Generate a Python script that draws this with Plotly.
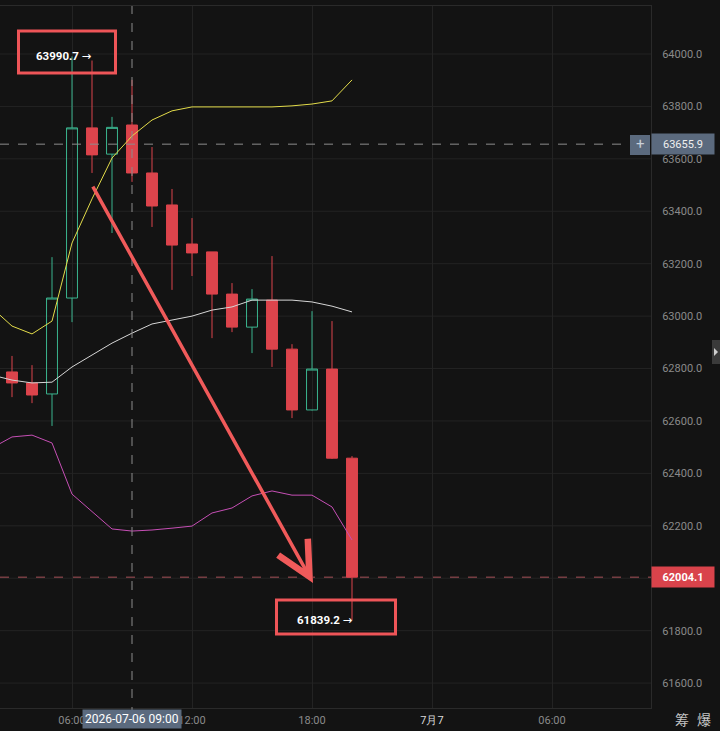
import plotly.graph_objects as go

# ---------------- data ----------------
times = ["2026-07-06 02:00", "2026-07-06 03:00", "2026-07-06 04:00", "2026-07-06 05:00",
         "2026-07-06 06:00", "2026-07-06 07:00", "2026-07-06 08:00", "2026-07-06 09:00",
         "2026-07-06 10:00", "2026-07-06 11:00", "2026-07-06 12:00", "2026-07-06 13:00",
         "2026-07-06 14:00", "2026-07-06 15:00", "2026-07-06 16:00", "2026-07-06 17:00",
         "2026-07-06 18:00", "2026-07-06 19:00", "2026-07-06 20:00"]

candle_times = times[1:]
opens  = [62787, 62745, 62703, 63069, 63718, 63618, 63729, 63546, 63424, 63275,
          63245, 63084, 62958, 63061, 62874, 62642, 62798, 62458]
highs  = [62848, 62813, 63225, 63990.7, 63975, 63760, 63901, 63645, 63485, 63374,
          63245, 63126, 63103, 63229, 62893, 63019, 62981, 62466]
lows   = [62691, 62668, 62581, 62977, 63546, 63317, 63512, 63340, 63100, 63153,
          62916, 62939, 62859, 62806, 62611, 62640, 62455, 61839.2]
closes = [62745, 62699, 63069, 63718, 63615, 63720, 63546, 63420, 63271, 63241,
          63084, 62958, 63065, 62874, 62642, 62798, 62458, 62004.1]

upper_band  = [63031, 62962, 62932, 62981, 63279, 63447, 63603, 63687, 63748, 63783,
               63798, 63798, 63798, 63798, 63798, 63802, 63809, 63821, 63901]
middle_band = [62775, 62756, 62745, 62748, 62806, 62851, 62897, 62935, 62970, 62985,
               63000, 63023, 63035, 63061, 63061, 63061, 63054, 63038, 63016]
lower_band  = [62497, 62539, 62546, 62516, 62321, 62256, 62188, 62180, 62184, 62191,
               62199, 62249, 62268, 62314, 62333, 62317, 62317, 62272, 62146]

tick_vals = ["2026-07-06 06:00", "2026-07-06 12:00", "2026-07-06 18:00",
             "2026-07-07 00:00", "2026-07-07 06:00"]
tick_text = ["06:00", "12:00", "18:00", "<span style='color:#d8d8d8'>7月7</span>", "06:00"]

# price labels shown on the right axis (62000.0 is hidden behind the last-price tag)
y_tick_vals = [61600, 61800, 62200, 62400, 62600, 62800, 63000, 63200, 63400, 63600, 63800, 64000]
y_grid_vals = [61600, 61800, 62000, 62200, 62400, 62600, 62800, 63000, 63200, 63400, 63600, 63800, 64000]

high_label_time = "2026-07-06 06:00"
high_price = 63990.7
low_label_time = "2026-07-06 20:00"
low_price = 61839.2
last_price = 62004.1
cross_time = "2026-07-06 09:00"
cross_price = 63655.9
arrow_start = ("2026-07-06 07:00", 63500)
arrow_end = ("2026-07-06 18:03", 61982)

x_range = ["2026-07-06 02:24", "2026-07-07 10:57"]
y_range = [61505, 64183]

# ---------------- style ----------------
BG = "#131313"
GRID = "#232323"
RED = "#dc444c"
GREEN = "#3bb58f"
BOX_RED = "#ee5558"
SLATE = "#5b6a7e"
FONT = "Roboto"

W, H = 720, 731
ML, MR, MT, MB = 0, 69, 6, 23
PW = W - ML - MR
PH = H - MT - MB


def px(x):
    return (x - ML) / PW


def py(y):
    return (H - MB - y) / PH


fig = go.Figure()

fig.add_trace(go.Candlestick(
    x=candle_times, open=opens, high=highs, low=lows, close=closes,
    increasing=dict(line=dict(color=GREEN, width=1), fillcolor="rgba(0,0,0,0)"),
    decreasing=dict(line=dict(color=RED, width=1), fillcolor=RED),
    whiskerwidth=0, showlegend=False, hoverinfo="skip",
))

fig.add_trace(go.Scatter(x=times, y=upper_band, mode="lines",
                         line=dict(color="#e3dc4a", width=1), showlegend=False, hoverinfo="skip"))
fig.add_trace(go.Scatter(x=times, y=middle_band, mode="lines",
                         line=dict(color="#d6d6d6", width=1), showlegend=False, hoverinfo="skip"))
fig.add_trace(go.Scatter(x=times, y=lower_band, mode="lines",
                         line=dict(color="#c64fb5", width=1), showlegend=False, hoverinfo="skip"))

shapes = []
# horizontal grid lines (drawn explicitly so the hidden 62000 label still has its grid line)
for gv in y_grid_vals:
    shapes.append(dict(type="line", xref="paper", yref="y", x0=0, x1=1, y0=gv, y1=gv,
                       line=dict(color=GRID, width=1), layer="below"))
# crosshair
shapes.append(dict(type="line", xref="x", yref="paper", x0=cross_time, x1=cross_time,
                   y0=py(716), y1=1, line=dict(color="#8c8c8c", width=1, dash="dash"), layer="above"))
shapes.append(dict(type="line", xref="paper", yref="y", x0=0, x1=px(630), y0=cross_price, y1=cross_price,
                   line=dict(color="#8c8c8c", width=1, dash="dash"), layer="above"))
# last price line
shapes.append(dict(type="line", xref="paper", yref="y", x0=0, x1=px(660), y0=last_price, y1=last_price,
                   line=dict(color="#a8525a", width=1, dash="dash"), layer="below"))
# high / low boxes
shapes.append(dict(type="rect", xref="x", yref="y", xsizemode="pixel", ysizemode="pixel",
                   xanchor=high_label_time, yanchor=high_price, x0=-53.5, x1=43.5, y0=-16.5, y1=25.5,
                   line=dict(color=BOX_RED, width=3), layer="above"))
shapes.append(dict(type="rect", xref="x", yref="y", xsizemode="pixel", ysizemode="pixel",
                   xanchor=low_label_time, yanchor=low_price, x0=-75.5, x1=43.5, y0=-13.5, y1=20.5,
                   line=dict(color=BOX_RED, width=3), layer="above"))
# right edge tab
shapes.append(dict(type="rect", xref="paper", yref="paper", x0=px(712), x1=px(720), y0=py(364), y1=py(340),
                   fillcolor="#3a3a3a", line=dict(width=0)))
shapes.append(dict(type="path", xref="paper", yref="paper",
                   path=f"M {px(714)} {py(348)} L {px(718)} {py(352)} L {px(714)} {py(356)} Z",
                   fillcolor="#cfcfcf", line=dict(width=0)))
# + box
shapes.append(dict(type="rect", xref="paper", yref="paper", x0=px(630), x1=px(650), y0=py(155), y1=py(135),
                   fillcolor=SLATE, line=dict(width=0)))

ARROW = "<span style='font-family:DejaVu Sans;font-weight:normal'>→</span>"
annotations = []
annotations.append(dict(x=high_label_time, y=high_price, xref="x", yref="y", xanchor="left", yanchor="middle",
                        xshift=-38, yshift=0, showarrow=False, text="<b>63990.7</b> " + ARROW,
                        font=dict(family=FONT, size=11.5, color="#ffffff")))
annotations.append(dict(x=low_label_time, y=low_price, xref="x", yref="y", xanchor="left", yanchor="middle",
                        xshift=-57, yshift=0, showarrow=False, text="<b>61839.2</b> " + ARROW,
                        font=dict(family=FONT, size=11.5, color="#ffffff")))
# arrow
annotations.append(dict(x=arrow_end[0], y=arrow_end[1], ax=arrow_start[0], ay=arrow_start[1],
                        xref="x", yref="y", axref="x", ayref="y", showarrow=True, text="",
                        arrowhead=5, arrowsize=1.9, arrowwidth=3.5, arrowcolor="#f05a5a"))
# right price labels
annotations.append(dict(x=1, y=cross_price, xref="paper", yref="y", xanchor="left", yanchor="middle",
                        showarrow=False, text="63655.9", bgcolor=SLATE, width=56, height=14, borderpad=3,
                        font=dict(family=FONT, size=11, color="#f0f0f0")))
annotations.append(dict(x=px(640), y=cross_price, xref="paper", yref="y", xanchor="center", yanchor="middle",
                        showarrow=False, text="+", font=dict(family=FONT, size=15, color="#c8d0da")))
annotations.append(dict(x=1, y=last_price, xref="paper", yref="y", xanchor="left", yanchor="middle",
                        showarrow=False, text="<b>62004.1</b>", bgcolor="#d9434b", width=56, height=14, borderpad=3,
                        font=dict(family=FONT, size=11, color="#ffffff")))
# bottom crosshair date label
annotations.append(dict(x=cross_time, y=py(719), xref="x", yref="paper", xanchor="center", yanchor="middle",
                        showarrow=False, text="2026-07-06 09:00", bgcolor=SLATE, borderpad=2,
                        font=dict(family=FONT, size=12, color="#ffffff")))
# bottom right glyphs
annotations.append(dict(x=px(682), y=py(719), xref="paper", yref="paper", xanchor="center", yanchor="middle",
                        showarrow=False, text="筹", font=dict(family="Noto Sans CJK SC", size=14, color="#c4c4c4")))
annotations.append(dict(x=px(704), y=py(719), xref="paper", yref="paper", xanchor="center", yanchor="middle",
                        showarrow=False, text="爆", font=dict(family="Noto Sans CJK SC", size=14, color="#c4c4c4")))

fig.update_layout(
    width=W, height=H,
    margin=dict(l=ML, r=MR, t=MT, b=MB, pad=0),
    paper_bgcolor=BG, plot_bgcolor=BG,
    boxgap=0.22,
    showlegend=False,
    shapes=shapes,
    annotations=annotations,
    xaxis=dict(type="date", range=x_range, rangeslider=dict(visible=False),
               tickvals=tick_vals, ticktext=tick_text, showgrid=True, gridcolor=GRID, gridwidth=1,
               zeroline=False, showline=True, linecolor="#2a2a2a", linewidth=1, mirror=True,
               ticks="", ticklabelstandoff=2,
               tickfont=dict(family=FONT, size=11, color="#8a8a8a")),
    yaxis=dict(range=y_range, side="right", tickmode="array", tickvals=y_tick_vals, tickformat=".1f",
               showgrid=False, zeroline=False,
               showline=True, linecolor="#2a2a2a", linewidth=1, ticks="", ticklabelstandoff=8,
               tickfont=dict(family=FONT, size=11, color="#8a8a8a")),
)

fig.write_html("out.html")
